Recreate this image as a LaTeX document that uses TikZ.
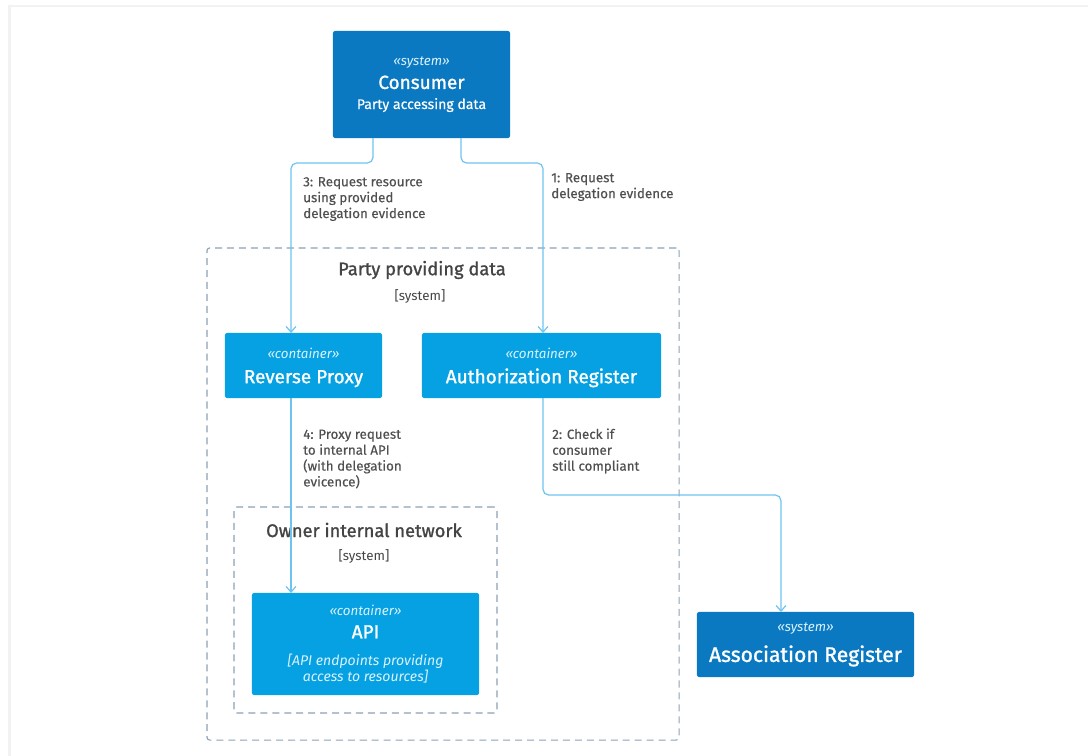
\documentclass[tikz,border=0pt]{standalone}
\usepackage{fontspec}
\setmainfont{Fira Sans}
\newfontfamily\medfont{Fira Sans}[FakeBold=1.2]
\newfontfamily\semifont{Fira Sans}[FakeBold=0.4]
\usepackage{tikz}
\usetikzlibrary{arrows.meta,calc}

\definecolor{sysblue}{HTML}{0A79C1}
\definecolor{ctrblue}{HTML}{05A1E3}
\definecolor{flowblue}{HTML}{6EC3F0}
\definecolor{boundgray}{HTML}{8CA2B5}
\definecolor{labelgray}{HTML}{505050}
\definecolor{framegray}{HTML}{F2F2F2}

\tikzset{
  box/.style={rounded corners=1.5pt, inner sep=0pt, outer sep=0pt, text=white, align=center, font=\fontsize{10}{11.3}\selectfont},
  sysbox/.style={box, fill=sysblue},
  ctrbox/.style={box, fill=ctrblue},
  bound/.style={draw=boundgray, line width=0.8pt, dash pattern=on 5pt off 3.5pt, rounded corners=2pt, inner sep=0pt, outer sep=0pt},
  flow/.style={draw=flowblue, line width=0.85pt, rounded corners=4pt, -{Straight Barb[length=4pt,width=7pt]}},
  flowlabel/.style={text=labelgray, align=left, anchor=west, inner sep=0pt, font=\semifont\fontsize{9.5}{11.3}\selectfont},
  boundtitle/.style={text=labelgray!85!black, inner sep=0pt, font=\medfont\fontsize{13}{15}\selectfont},
  boundtype/.style={text=labelgray!85!black, inner sep=0pt, font=\fontsize{9.5}{11}\selectfont}
}

\newcommand{\stereo}[1]{{\fontsize{9.5}{11}\selectfont\itshape\color{white!85!ctrblue}«#1»}}
\newcommand{\boxtitle}[1]{{\medfont\fontsize{13.5}{16}\selectfont #1}}
\newcommand{\boxdescr}[1]{{\itshape\color{white!85!ctrblue}#1}}

\begin{document}
\begin{tikzpicture}[x=0.025cm, y=-0.025cm]
  \useasboundingbox (0,0) rectangle (1088,756);
  \draw[framegray, line width=2pt] (9.5,756) -- (9.5,6) -- (1088,6);

  \draw (443,494) node[bound, minimum width=11.8cm, minimum height=12.3cm] (partydata) {};
  \draw (422,270) node[boundtitle] (partytitle) {Party providing data};
  \draw (420,296) node[boundtype] (partytype) {[system]};
  \draw (365.5,610) node[bound, minimum width=6.575cm, minimum height=5.15cm] (ownernet) {};
  \draw (364,530) node[boundtitle] (ownertitle) {Owner internal network};
  \draw (364,556) node[boundtype] (ownertype) {[system]};

  \draw (421.5,84.5) node[sysbox, minimum width=4.425cm, minimum height=2.675cm] (consumer)
    {\stereo{system}\\[4pt]\boxtitle{Consumer}\\[3pt]{\semifont Party accessing data}};
  \draw (303.5,365.5) node[ctrbox, minimum width=3.925cm, minimum height=1.625cm, text depth=-2pt] (proxy)
    {\stereo{container}\\[6.5pt]\boxtitle{Reverse Proxy}};
  \draw (541.5,365.5) node[ctrbox, minimum width=5.975cm, minimum height=1.625cm, text depth=-2pt] (authreg)
    {\stereo{container}\\[6.5pt]\boxtitle{Authorization Register}};
  \draw (365.5,644) node[ctrbox, minimum width=5.675cm, minimum height=2.55cm] (api)
    {\stereo{container}\\[5pt]\boxtitle{API}\\[8pt]\boxdescr{[API endpoints providing}\\\boxdescr{access to resources]}};
  \draw (805.5,644.5) node[sysbox, minimum width=5.425cm, minimum height=1.625cm] (assocreg)
    {\stereo{system}\\[7pt]{\medfont\fontsize{15}{18}\selectfont Association Register}};

  \draw[flow] ($(consumer.south)+(39.5,0)$) -- ++(0,25) -| ($(authreg.north)+(1.5,0)$);
  \draw (551,187) node[flowlabel] (step1) {1: Request\\delegation evidence};
  \draw[flow] ($(authreg.south)+(1.5,0)$) -- ++(0,97) -| ($(assocreg.north)+(-24.5,0)$);
  \draw (552,451) node[flowlabel] (step2) {2: Check if\\consumer\\still compliant};
  \draw[flow] ($(consumer.south)+(-48.5,0)$) -- ++(0,25) -| ($(proxy.north)+(-12.5,0)$);
  \draw (303,199) node[flowlabel] (step3) {3: Request resource\\using provided\\delegation evidence};
  \draw[flow] ($(proxy.south)+(-12.5,0)$) -- ($(api.north)+(-74.5,0)$);
  \draw (303,459) node[flowlabel] (step4) {4: Proxy request\\to internal API\\(with delegation\\evicence)};
\end{tikzpicture}
\end{document}
